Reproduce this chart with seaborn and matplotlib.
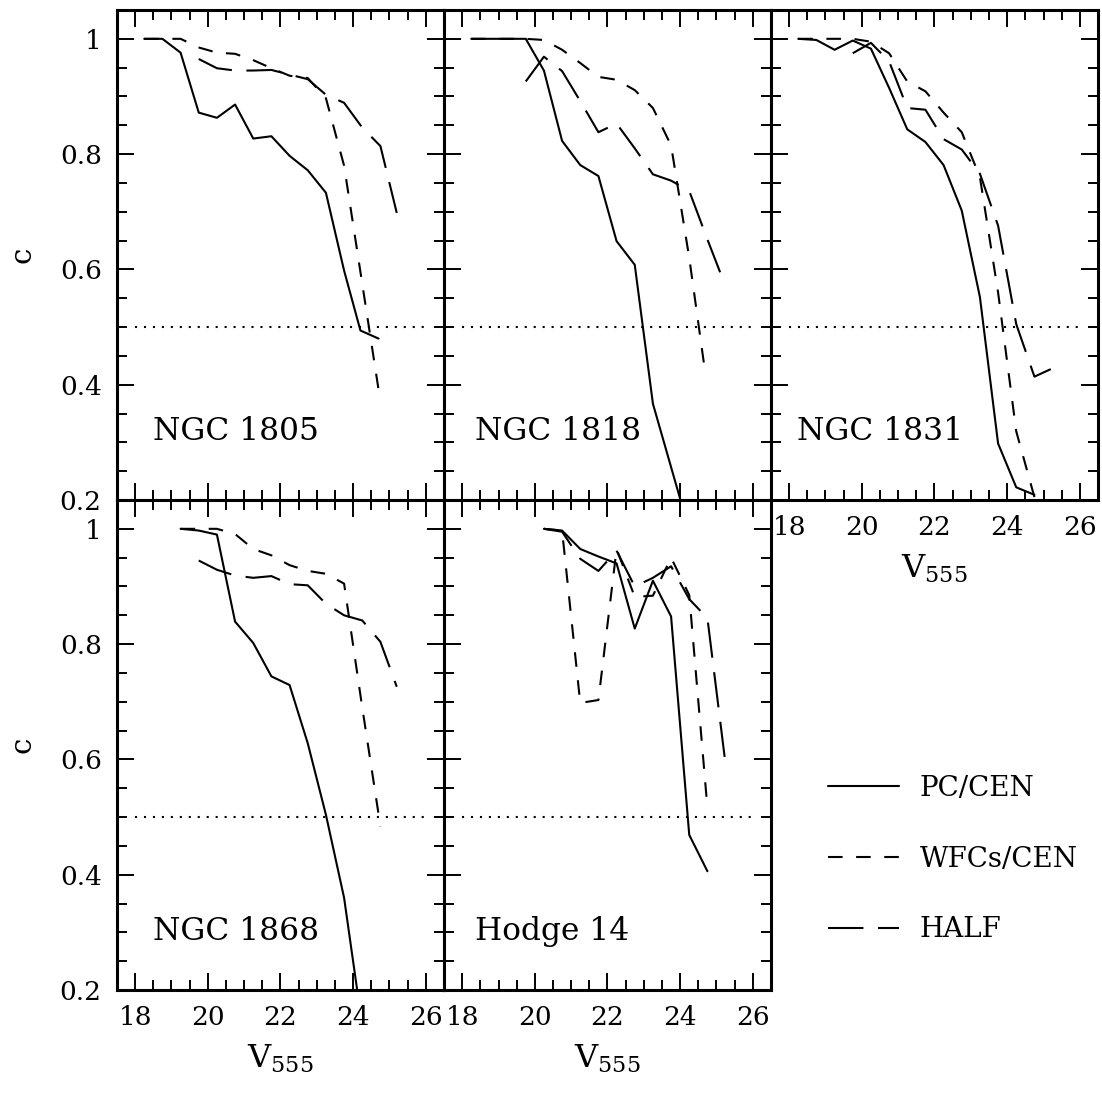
import numpy as np
import pandas as pd
import matplotlib
matplotlib.use("Agg")
import matplotlib.pyplot as plt
from matplotlib.ticker import MultipleLocator
import seaborn as sns

# ---------------- data ----------------
cluster_names = ["NGC 1805", "NGC 1818", "NGC 1831", "NGC 1868", "Hodge 14"]
series_names = ["PC/CEN", "WFCs/CEN", "HALF"]

# NGC 1805
n1805_pc_x = [18.25, 18.75, 19.25, 19.75, 20.25, 20.75, 21.25, 21.75, 22.25, 22.75, 23.25, 23.75, 24.2, 24.7]
n1805_pc_y = [1.0, 1.0, 0.976, 0.872, 0.863, 0.886, 0.827, 0.831, 0.797, 0.772, 0.733, 0.598, 0.494, 0.480]
n1805_wfc_x = [18.25, 18.75, 19.25, 19.75, 20.25, 20.75, 21.25, 21.75, 22.25, 22.75, 23.25, 23.75, 24.25, 24.7]
n1805_wfc_y = [1.0, 1.0, 1.0, 0.985, 0.976, 0.974, 0.963, 0.949, 0.936, 0.932, 0.897, 0.78, 0.575, 0.391]
n1805_half_x = [19.75, 20.25, 20.75, 21.25, 21.75, 22.25, 22.75, 23.25, 23.75, 24.25, 24.75, 25.2]
n1805_half_y = [0.965, 0.949, 0.945, 0.945, 0.946, 0.938, 0.930, 0.903, 0.889, 0.846, 0.814, 0.698]

# NGC 1818
n1818_pc_x = [18.25, 18.75, 19.25, 19.75, 20.25, 20.75, 21.25, 21.75, 22.25, 22.75, 23.25, 23.75, 24.25]
n1818_pc_y = [1.0, 1.0, 1.0, 1.0, 0.945, 0.823, 0.781, 0.762, 0.649, 0.608, 0.367, 0.257, 0.147]
n1818_wfc_x = [18.25, 18.75, 19.25, 19.75, 20.25, 20.75, 21.25, 21.75, 22.25, 22.75, 23.25, 23.75, 24.25, 24.7]
n1818_wfc_y = [1.0, 1.0, 1.0, 1.0, 0.998, 0.981, 0.958, 0.934, 0.929, 0.911, 0.880, 0.815, 0.62, 0.416]
n1818_half_x = [19.75, 20.25, 20.75, 21.25, 21.75, 22.25, 22.75, 23.25, 23.75, 24.25, 24.75, 25.1]
n1818_half_y = [0.926, 0.969, 0.944, 0.892, 0.838, 0.853, 0.810, 0.765, 0.754, 0.736, 0.652, 0.595]

# NGC 1831
n1831_pc_x = [18.25, 18.75, 19.25, 19.75, 20.25, 20.75, 21.25, 21.75, 22.25, 22.75, 23.25, 23.75, 24.25, 24.75]
n1831_pc_y = [1.0, 0.998, 0.981, 0.997, 0.983, 0.915, 0.843, 0.821, 0.781, 0.702, 0.552, 0.298, 0.222, 0.209]
n1831_wfc_x = [18.25, 18.75, 19.25, 19.75, 20.25, 20.75, 21.25, 21.75, 22.25, 22.75, 23.25, 23.75, 24.25, 24.75]
n1831_wfc_y = [1.0, 1.0, 1.0, 1.0, 0.995, 0.975, 0.926, 0.909, 0.872, 0.838, 0.760, 0.560, 0.319, 0.205]
n1831_half_x = [19.75, 20.25, 20.75, 21.25, 21.75, 22.25, 22.75, 23.25, 23.75, 24.25, 24.75, 25.2]
n1831_half_y = [0.975, 0.993, 0.961, 0.880, 0.877, 0.826, 0.808, 0.766, 0.676, 0.505, 0.414, 0.427]

# NGC 1868
n1868_pc_x = [19.25, 19.75, 20.25, 20.75, 21.25, 21.75, 22.25, 22.75, 23.25, 23.75, 24.25]
n1868_pc_y = [1.0, 0.997, 0.990, 0.839, 0.802, 0.744, 0.729, 0.628, 0.504, 0.360, 0.138]
n1868_wfc_x = [19.25, 19.75, 20.25, 20.75, 21.25, 21.75, 22.25, 22.75, 23.25, 23.75, 24.25, 24.75]
n1868_wfc_y = [1.0, 1.0, 1.0, 0.991, 0.965, 0.954, 0.937, 0.927, 0.922, 0.905, 0.690, 0.484]
n1868_half_x = [19.75, 20.25, 20.75, 21.25, 21.75, 22.25, 22.75, 23.25, 23.75, 24.25, 24.75, 25.2]
n1868_half_y = [0.945, 0.929, 0.919, 0.915, 0.918, 0.904, 0.902, 0.870, 0.850, 0.841, 0.804, 0.726]

# Hodge 14
h14_pc_x = [20.25, 20.75, 21.25, 21.75, 22.25, 22.75, 23.25, 23.75, 24.25, 24.75]
h14_pc_y = [1.0, 0.997, 0.965, 0.952, 0.940, 0.827, 0.910, 0.848, 0.469, 0.406]
h14_wfc_x = [20.25, 20.75, 21.25, 21.75, 22.25, 22.75, 23.25, 23.75, 24.25, 24.75]
h14_wfc_y = [1.0, 0.997, 0.698, 0.703, 0.965, 0.882, 0.884, 0.950, 0.885, 0.516]
h14_half_x = [20.25, 20.75, 21.25, 21.75, 22.25, 22.75, 23.25, 23.75, 24.25, 24.75, 25.25]
h14_half_y = [1.0, 0.995, 0.948, 0.927, 0.962, 0.900, 0.915, 0.935, 0.878, 0.845, 0.591]

completeness_level = 0.5
level_x_range = [18.0, 26.0]

x_ticks = [18, 20, 22, 24, 26]
x_tick_labels = ["18", "20", "22", "24", "26"]
y_ticks = [0.2, 0.4, 0.6, 0.8, 1.0]
y_tick_labels = ["0.2", "0.4", "0.6", "0.8", "1"]

panel_series = [
    [(n1805_pc_x, n1805_pc_y), (n1805_wfc_x, n1805_wfc_y), (n1805_half_x, n1805_half_y)],
    [(n1818_pc_x, n1818_pc_y), (n1818_wfc_x, n1818_wfc_y), (n1818_half_x, n1818_half_y)],
    [(n1831_pc_x, n1831_pc_y), (n1831_wfc_x, n1831_wfc_y), (n1831_half_x, n1831_half_y)],
    [(n1868_pc_x, n1868_pc_y), (n1868_wfc_x, n1868_wfc_y), (n1868_half_x, n1868_half_y)],
    [(h14_pc_x, h14_pc_y), (h14_wfc_x, h14_wfc_y), (h14_half_x, h14_half_y)],
]

# ---------------- style ----------------
sns.set_style("ticks")
plt.rcParams["font.family"] = ["DejaVu Serif"]
plt.rcParams["mathtext.fontset"] = "dejavuserif"
plt.rcParams["axes.linewidth"] = 2.2
plt.rcParams["text.color"] = "black"
plt.rcParams["axes.labelcolor"] = "black"
plt.rcParams["xtick.color"] = "black"
plt.rcParams["ytick.color"] = "black"

line_styles = {"PC/CEN": "-", "WFCs/CEN": (0, (7, 6.5)), "HALF": (0, (17, 7))}
LW = 1.5

W, H = 1102, 1093
fig = plt.figure(figsize=(W / 100, H / 100), dpi=100)
fig.patch.set_facecolor("white")

# panel pixel rectangles (left, top, right, bottom)
rects = [(117, 10, 444, 500), (444, 10, 771, 500), (771, 10, 1098, 500),
         (117, 500, 444, 990), (444, 500, 771, 990)]
label_pos = [(0.111, 0.122), (0.095, 0.122), (0.079, 0.122), (0.111, 0.102), (0.095, 0.102)]
show_left = [True, False, False, True, False]
show_bottom = [False, False, True, True, True]

axes = []
for i, (l, t, r, b) in enumerate(rects):
    ax = fig.add_axes([l / W, 1 - b / H, (r - l) / W, (b - t) / H])
    ax.set_facecolor("white")
    for name, (xs, ys) in zip(series_names, panel_series[i]):
        sns.lineplot(x=xs, y=ys, ax=ax, color="black", lw=LW,
                     linestyle=line_styles[name], estimator=None, sort=False,
                     legend=False, label=name)
    ax.hlines(completeness_level, level_x_range[0], level_x_range[1], colors="black",
              linestyles=[(0, (1, 3.3))], lw=LW)
    ax.set_xlim(17.5, 26.5)
    ax.set_ylim(0.2, 1.05)
    ax.set_xticks(x_ticks)
    ax.set_xticklabels(x_tick_labels)
    ax.set_yticks(y_ticks)
    ax.set_yticklabels(y_tick_labels)
    ax.xaxis.set_minor_locator(MultipleLocator(0.5))
    ax.yaxis.set_minor_locator(MultipleLocator(0.05))
    ax.tick_params(which="both", direction="in", top=True, right=True,
                   labelbottom=show_bottom[i], labelleft=show_left[i],
                   labelsize=19, colors="black", pad=11)
    ax.tick_params(which="major", length=12, width=1.4)
    ax.tick_params(which="minor", length=7, width=1.4)
    for s in ax.spines.values():
        s.set_visible(True)
        s.set_linewidth(2.2)
        s.set_color("black")
    ax.set_xlabel("")
    ax.set_ylabel("")
    if show_bottom[i]:
        ax.set_xlabel(r"V$_{555}$", fontsize=23, labelpad=9, color="black")
    if show_left[i]:
        ax.set_ylabel("c", fontsize=21, color="black")
        ax.yaxis.set_label_coords(-0.245, 0.5)
    ax.text(label_pos[i][0], label_pos[i][1], cluster_names[i], transform=ax.transAxes,
            fontsize=22.5, ha="left", va="baseline", color="black")
    axes.append(ax)

handles = [ln for ln in axes[4].get_lines() if ln.get_label() in series_names]
leg = fig.legend(handles, [h.get_label() for h in handles], loc="upper left",
                 bbox_to_anchor=(828 / W, 1 - 775 / H), frameon=False, fontsize=20,
                 handlelength=2.55, handletextpad=0.75, labelspacing=1.57,
                 borderpad=0, borderaxespad=0)
for txt in leg.get_texts():
    txt.set_color("black")

fig.savefig("out.png", dpi=100, facecolor="white")
